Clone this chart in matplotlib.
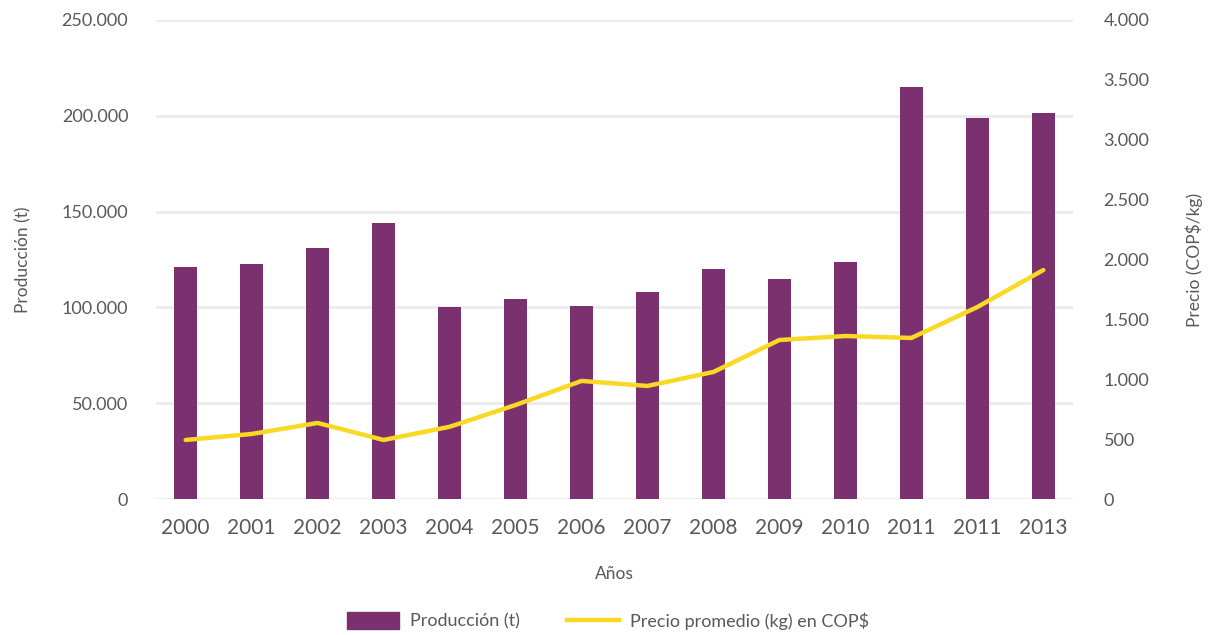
import matplotlib
matplotlib.use('Agg')
import matplotlib.pyplot as plt
from matplotlib.ticker import FuncFormatter
from matplotlib.lines import Line2D
from matplotlib.patches import Patch

plt.rcParams['font.family'] = ['Lato', 'DejaVu Sans']

years = ['2000', '2001', '2002', '2003', '2004', '2005', '2006',
         '2007', '2008', '2009', '2010', '2011', '2011', '2013']
produccion = [121000, 122600, 131000, 144000, 100200, 104400, 100700,
              108000, 120000, 114800, 123700, 215000, 198900, 201500]
precio = [493, 543, 635, 493, 603, 785, 986,
          944, 1061, 1328, 1361, 1345, 1603, 1912]

purple = '#7B3170'
yellow = '#F9D923'
txt = '#595959'
grid = '#EBEBEB'


def miles(v, pos):
    return f'{int(v):,}'.replace(',', '.')


fig = plt.figure(figsize=(12.13, 6.35), dpi=100)
ax = fig.add_axes([156 / 1213, 136 / 635, 917 / 1213, 479 / 635])
ax2 = ax.twinx()

x = list(range(len(years)))
ax.bar(x, produccion, width=0.34, color=purple, zorder=3)
ax2.plot(x, precio, color=yellow, lw=3.2, solid_capstyle='round', zorder=4)

ax.set_xlim(-0.45, 13.45)
ax.set_ylim(0, 250000)
ax.set_yticks(range(0, 250001, 50000))
ax2.set_ylim(0, 4000)
ax2.set_yticks(range(0, 4001, 500))
ax.yaxis.set_major_formatter(FuncFormatter(miles))
ax2.yaxis.set_major_formatter(FuncFormatter(miles))

ax.set_xticks(x)
ax.set_xticklabels(years)
ax.grid(axis='y', color=grid, lw=2, zorder=0)
ax.set_axisbelow(True)

for a in (ax, ax2):
    for s in a.spines.values():
        s.set_visible(False)
    a.tick_params(length=0, colors=txt)

ax.tick_params(axis='x', labelsize=15, pad=14)
ax.tick_params(axis='y', labelsize=13, pad=20)
ax2.tick_params(axis='y', labelsize=13, pad=22)

ax2.set_zorder(ax.get_zorder() + 1)
ax2.patch.set_visible(False)

ax.set_xlabel('Años', fontsize=12.5, color=txt, labelpad=20)
ax.set_ylabel('Producción (t)', fontsize=12.5, color=txt, labelpad=22)
ax2.set_ylabel('Precio (COP$/kg)', fontsize=12.5, color=txt, labelpad=26)

handles = [Patch(color=purple, label='Producción (t)'),
           Line2D([0], [0], color=yellow, lw=3.2, label='Precio promedio (kg) en COP$')]
fig.legend(handles=handles, loc='center', bbox_to_anchor=(608 / 1213, 14 / 635),
           ncol=2, frameon=False, fontsize=13, labelcolor=txt,
           handlelength=2.9, handleheight=1.0, handletextpad=0.6,
           columnspacing=2.6)

fig.savefig('out.png', dpi=100)
